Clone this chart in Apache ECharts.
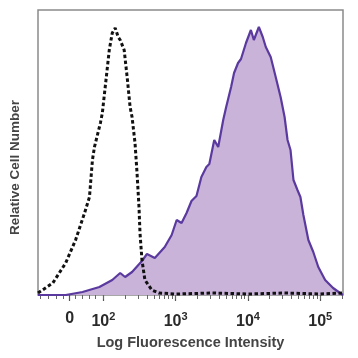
<!DOCTYPE html>
<html>
<head>
<meta charset="utf-8">
<script src="https://cdn.jsdelivr.net/npm/echarts@6/dist/echarts.min.js"></script>
<style>
html,body{margin:0;padding:0;background:#fff;}
#chart{width:358px;height:358px;}
</style>
</head>
<body>
<div id="chart"></div>
<script>
// x values are in display decades (2 = 10^2, 3 = 10^3 ...), y = relative cell count
var stainedX = [1.096,1.479,1.712,1.945,2.123,2.233,2.301,2.397,2.534,2.603,2.712,2.849,2.945,3.014,3.082,3.151,3.219,3.288,3.356,3.425,3.466,3.534,3.589,3.658,3.699,3.767,3.808,3.863,3.904,3.973,4.041,4.082,4.151,4.205,4.247,4.315,4.384,4.452,4.507,4.548,4.589,4.630,4.685,4.726,4.767,4.836,4.904,4.973,5.068,5.178,5.274,5.315];
var stainedY = [0,0,3,8,15,22,18,23,34,41,37,48,60,75,72,82,94,99,118,128,131,155,148,175,188,208,222,232,236,252,265,255,268,258,248,238,218,198,178,155,145,115,105,98,80,55,43,28,15,7,2,0];
var controlX = [1.096,1.301,1.479,1.616,1.740,1.808,1.849,1.877,1.918,1.959,1.986,2.041,2.082,2.123,2.164,2.205,2.233,2.288,2.329,2.370,2.397,2.438,2.466,2.493,2.507,2.534,2.575,2.671,2.767,3.0,3.5,4.0,4.5,5.0,5.315];
var controlY = [2,12,32,55,82,98,135,148,160,172,182,218,245,262,267,258,255,245,218,188,178,152,122,88,62,35,15,5,2,1,2,1,2,1,2];
var majorTickValues = [1.534,2,3,4,5];
var majorTickLabels = ['0','10{s|2}','10{s|3}','10{s|4}','10{s|5}'];
var lowTickValues = [1.123,1.233,1.342,1.452,1.616,1.712,1.808,1.890];

var minorTicks = lowTickValues.slice();
[2,3,4,5].forEach(function(d){
  for (var k=1;k<=9;k++){ var v=d+Math.log10(k); if(v<=5.315) minorTicks.push(v); }
});

function pairs(xs, ys){ return xs.map(function(x,i){return [x, ys[i]];}); }

var chart = echarts.init(document.getElementById('chart'));
var XMIN = 1.096, XMAX = 5.315;
chart.setOption({
  animation:false,
  grid:{left:35, top:10, right:15, bottom:63, show:true, borderColor:'#8a8a8a', borderWidth:1.5, backgroundColor:'transparent'},
  xAxis:[{
    type:'value', min:XMIN, max:XMAX,
    axisLine:{show:false},
    splitLine:{show:false},
    axisTick:{show:true, customValues:majorTickValues, length:6, inside:false, lineStyle:{color:'#555', width:1.2}},
    axisLabel:{customValues:majorTickValues, margin:16, color:'#2a2a2a', fontFamily:'Liberation Sans', fontWeight:'bold', fontSize:16,
      formatter:function(v){ var i=majorTickValues.indexOf(v); return i>=0?majorTickLabels[i]:''; },
      rich:{s:{fontSize:11, fontWeight:'bold', color:'#2a2a2a', fontFamily:'Liberation Sans', padding:[0,0,10,0]}}},
    name:'Log Fluorescence Intensity', nameLocation:'middle', nameGap:40,
    nameTextStyle:{color:'#444', fontFamily:'Liberation Sans', fontWeight:'bold', fontSize:14.5}
  },{
    type:'value', min:XMIN, max:XMAX, position:'bottom',
    axisLine:{show:false}, splitLine:{show:false},
    axisTick:{show:true, customValues:minorTicks, length:4, lineStyle:{color:'#666', width:1}},
    axisLabel:{show:false}
  }],
  yAxis:{
    type:'value', min:0, max:285,
    axisLine:{show:false}, axisTick:{show:false}, axisLabel:{show:false}, splitLine:{show:false},
    name:'Relative Cell Number', nameLocation:'middle', nameGap:16,
    nameTextStyle:{color:'#444', fontFamily:'Liberation Sans', fontWeight:'bold', fontSize:13.5, padding:[0,30,0,0]}
  },
  series:[{
    type:'line', data:pairs(stainedX, stainedY), symbol:'none', smooth:false,
    lineStyle:{color:'#5b3a9f', width:2.2},
    areaStyle:{color:'#c9b3d9', opacity:1}
  },{
    type:'line', data:pairs(controlX, controlY), symbol:'none', smooth:false,
    lineStyle:{color:'#111', width:3, type:[3.5,2.5]}
  }]
});
</script>
</body>
</html>
